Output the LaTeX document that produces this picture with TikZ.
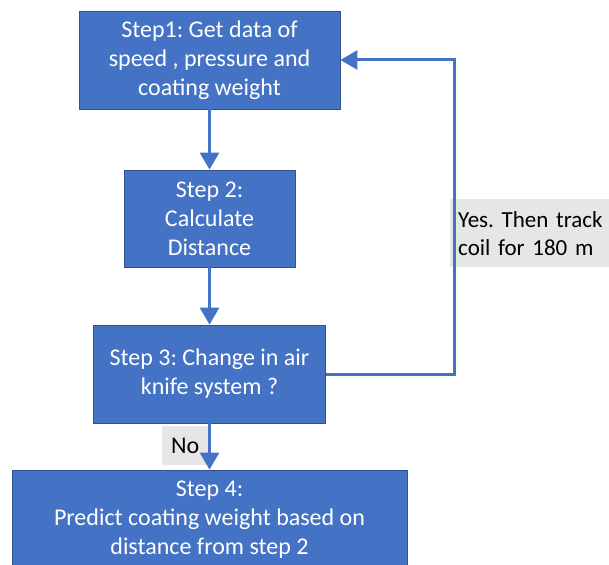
\documentclass[tikz,border=0pt]{standalone}
\usepackage{fontspec}
\setmainfont{Carlito}
\usepackage{tikz}
\usetikzlibrary{arrows.meta}
\definecolor{stepblue}{HTML}{4472C4}
\definecolor{stepedge}{HTML}{2F528F}
\definecolor{notegray}{HTML}{E7E6E6}
\frenchspacing

\begin{document}
\begin{tikzpicture}[x=1pt,y=-1pt,every node/.style={font=\fontsize{24}{29}\selectfont},
  stepbox/.style={draw=stepedge,line width=0.8pt,fill=stepblue,text=white,align=center,inner sep=0pt},
  notebox/.style={fill=notegray,text=black,inner sep=0pt},
  flow/.style={draw=stepblue,line width=3pt,-{Triangle[length=17pt,width=19pt]}}]
\useasboundingbox (0,0) rectangle (609,564);
\node[notebox,anchor=north west,minimum height=68,text width=170pt,inner xsep=8pt,align=left,font=\fontsize{23}{28}\selectfont] (yes) at (450,199) {Yes. Then track\\coil for 180 m};
\node[notebox,anchor=north west,minimum width=46,minimum height=39] (no) at (162,426) {No};
\node[stepbox,minimum width=261,minimum height=98] (s1) at (209.5,60) {Step1: Get data of\\speed , pressure and\\coating weight};
\node[stepbox,minimum width=171,minimum height=97] (s2) at (209.5,218.5) {Step 2:\\Calculate\\Distance};
\node[stepbox,minimum width=232,minimum height=98] (s3) at (209.5,374) {Step 3: Change in air\\knife system ?};
\node[stepbox,minimum width=395,minimum height=100] (s4) at (209.5,520) {Step 4:\\Predict coating weight based on\\distance from step 2};
\coordinate (loopturn) at (454,230);
\draw[flow] (s1) -- (s2);
\draw[flow] (s2) -- (s3);
\draw[flow] (s3) -- (s4);
\draw[flow] (s3.east) -| (loopturn) |- (s1.east);
\end{tikzpicture}
\end{document}
